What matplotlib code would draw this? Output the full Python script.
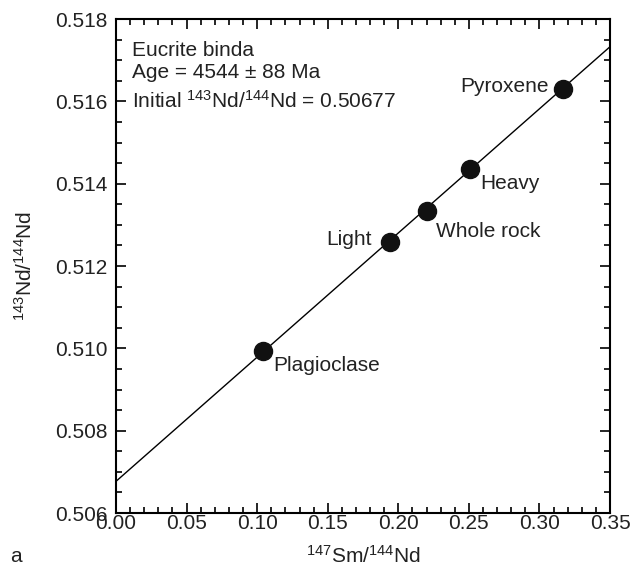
import numpy as np
import matplotlib.pyplot as plt
from matplotlib.ticker import MultipleLocator

plt.rcParams['font.family'] = ['Liberation Sans', 'DejaVu Sans']
plt.rcParams['mathtext.default'] = 'regular'

# isochron data (147Sm/144Nd, 143Nd/144Nd)
names = ['Plagioclase', 'Light', 'Whole rock', 'Heavy', 'Pyroxene']
sm_nd = [0.104, 0.194, 0.220, 0.251, 0.317]
nd_nd = [0.50994, 0.51258, 0.51333, 0.51435, 0.51631]
# label offsets in pixels (dx, dy) and alignment
offsets = [(10, -15), (-18, 3), (9, -20), (10, -14), (-15, 2)]
aligns = ['left', 'right', 'left', 'left', 'right']

age_ma = 4544
initial = 0.50677
lam = 6.54e-12  # 147Sm decay constant

fs = 15
tc = '#222222'

fig = plt.figure(figsize=(6.33, 5.73), dpi=100)
ax = fig.add_axes([0.1833, 0.1047, 0.7804, 0.8621])

#isochron line
xl = np.array([0.0, 0.35])
slope = np.exp(lam * age_ma * 1e6) - 1
ax.plot(xl, initial + slope * xl, color='black', lw=1.0)

ax.plot(sm_nd, nd_nd, 'o', color='#111111', markersize=13, zorder=3)
for n, x, y, off, ha in zip(names, sm_nd, nd_nd, offsets, aligns):
    ax.annotate(n, (x, y), xytext=off, textcoords='offset pixels',
                ha=ha, va='center', fontsize=fs, color=tc)

ax.text(0.032, 0.925, 'Eucrite binda', transform=ax.transAxes, fontsize=fs,
        color=tc, va='baseline')
ax.text(0.032, 0.881, 'Age = %d ± 88 Ma' % age_ma, transform=ax.transAxes,
        fontsize=fs, color=tc, va='baseline')
ax.text(0.032, 0.820, r'Initial $^{143}$Nd/$^{144}$Nd = %.5f' % initial,
        transform=ax.transAxes, fontsize=fs, color=tc, va='baseline')

ax.set_xlim(0, 0.35)
ax.set_ylim(0.506, 0.518)
ax.xaxis.set_major_locator(MultipleLocator(0.05))
ax.xaxis.set_minor_locator(MultipleLocator(0.01))
ax.yaxis.set_major_locator(MultipleLocator(0.002))
ax.yaxis.set_minor_locator(MultipleLocator(0.0005))
ax.xaxis.set_major_formatter(lambda v, p: '%.2f' % v)
ax.yaxis.set_major_formatter(lambda v, p: '%.3f' % v)
ax.tick_params(which='both', direction='in', top=True, right=True,
               labelsize=fs, labelcolor=tc, width=1.2)
ax.tick_params(which='major', length=7)
ax.tick_params(which='minor', length=4)
ax.tick_params(axis='y', which='major', pad=6)
ax.tick_params(axis='x', which='major', pad=1)
for s in ax.spines.values():
    s.set_linewidth(1.5)

ax.set_xlabel(r'$^{147}$Sm/$^{144}$Nd', fontsize=fs, color=tc, labelpad=8)
ax.set_ylabel(r'$^{143}$Nd/$^{144}$Nd', fontsize=fs, color=tc, labelpad=14)
fig.text(10 / 633, 1 - 556 / 573, 'a', fontsize=fs, va='center', color=tc)

fig.savefig('out.png', dpi=100)
